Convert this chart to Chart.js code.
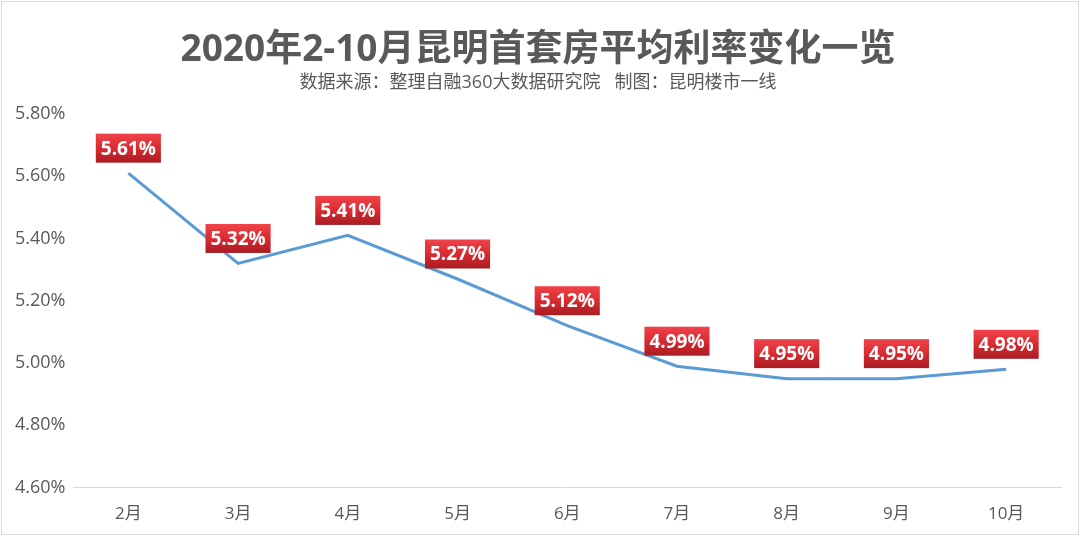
<!DOCTYPE html>
<html>
<head>
<meta charset="utf-8">
<script src="https://cdn.jsdelivr.net/npm/chart.js@4/dist/chart.umd.min.js"></script>
<style>
  html, body { margin: 0; padding: 0; background: #fff; }
  #box { position: absolute; left: 1px; top: 1px; width: 1076px; height: 532px; border: 1px solid #dcdcdc; }
</style>
</head>
<body>
<div id="box"><canvas id="grafico" width="1076" height="532"></canvas></div>
<script>
const meses = ['2月', '3月', '4月', '5月', '6月', '7月', '8月', '9月', '10月'];
const taxas = [5.61, 5.32, 5.41, 5.27, 5.12, 4.99, 4.95, 4.95, 4.98];
const titulo = '2020年2-10月昆明首套房平均利率变化一览';
const subtitulo = '数据来源：整理自融360大数据研究院   制图：昆明楼市一线';

const fonte = '"Open Sans", "Noto Sans CJK SC", sans-serif';

// etiquetas vermelhas em cima de cada ponto
const etiquetas = {
    id: 'etiquetas',
    afterDatasetsDraw(chart) {
        const ctx = chart.ctx;
        const meta = chart.getDatasetMeta(0);
        ctx.save();
        ctx.font = 'bold 19px ' + fonte;
        ctx.textAlign = 'center';
        ctx.textBaseline = 'middle';
        meta.data.forEach((pt, i) => {
            const txt = taxas[i].toFixed(2) + '%';
            const w = ctx.measureText(txt).width + 10;
            const h = 29;
            const cx = pt.x;
            const cy = pt.y - 25;
            const g = ctx.createLinearGradient(0, cy - h / 2, 0, cy + h / 2);
            g.addColorStop(0, '#f0444a');
            g.addColorStop(0.5, '#d92b31');
            g.addColorStop(1, '#a81c22');
            ctx.fillStyle = g;
            ctx.fillRect(cx - w / 2, cy - h / 2, w, h);
            ctx.fillStyle = '#ffffff';
            ctx.fillText(txt, cx, cy + 1);
        });
        ctx.restore();
    }
};

new Chart(document.getElementById('grafico'), {
    type: 'line',
    data: {
        labels: meses,
        datasets: [{
            data: taxas,
            borderColor: '#5b9bd5',
            borderWidth: 3,
            pointRadius: 0,
            tension: 0
        }]
    },
    options: {
        responsive: false,
        animation: false,
        layout: { padding: { left: 13, right: 17, top: 26, bottom: 2 } },
        plugins: {
            legend: { display: false },
            tooltip: { enabled: false },
            title: {
                display: true,
                text: titulo,
                color: '#595959',
                font: { family: fonte, size: 37, weight: 'bold' },
                padding: { top: 0, bottom: 0 }
            },
            subtitle: {
                display: true,
                text: subtitulo,
                color: '#595959',
                font: { family: fonte, size: 18 },
                padding: { bottom: 20 }
            }
        },
        scales: {
            x: {
                offset: true,
                grid: { display: false },
                border: { color: '#d9d9d9', width: 1 },
                ticks: { color: '#595959', font: { family: fonte, size: 17 }, padding: 8 }
            },
            y: {
                min: 4.6,
                max: 5.8,
                grid: { display: false },
                border: { display: false },
                ticks: {
                    stepSize: 0.2,
                    color: '#595959',
                    font: { family: fonte, size: 18 },
                    padding: 0,
                    callback: v => v.toFixed(2) + '%'
                }
            }
        }
    },
    plugins: [etiquetas]
});
</script>
</body>
</html>
